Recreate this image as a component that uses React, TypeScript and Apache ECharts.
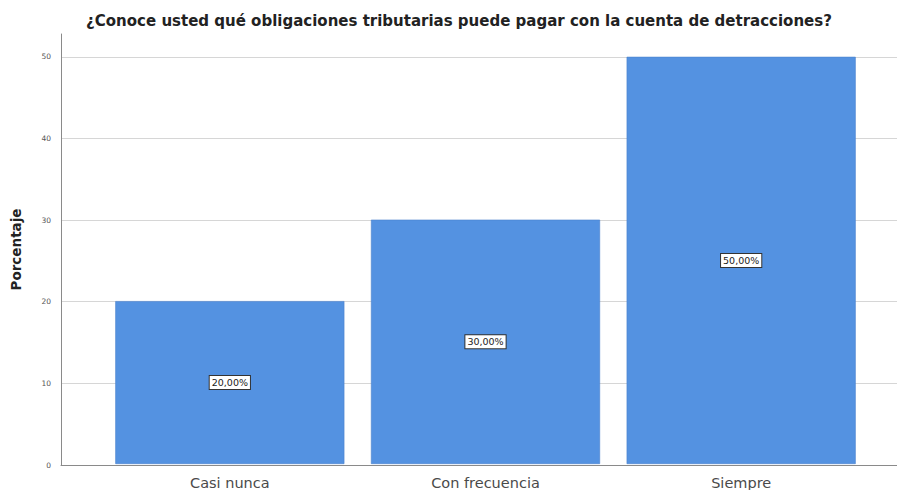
import React, { useEffect, useRef } from "react";
import * as echarts from "echarts";

const categories = ["Casi nunca", "Con frecuencia", "Siempre"];
const values = [20, 30, 50];
const valueLabels = ["20,00%", "30,00%", "50,00%"];
const yTicks = [0, 10, 20, 30, 40, 50];

const TITLE = "¿Conoce usted qué obligaciones tributarias puede pagar con la cuenta de detracciones?";
const Y_NAME = "Porcentaje";
const FONT = "DejaVu Sans, Liberation Sans, Arial, sans-serif";

export default function App() {
  const ref = useRef<HTMLDivElement>(null);
  useEffect(() => {
    if (!ref.current) return;
    const chart = echarts.init(ref.current, null, { renderer: "svg" });
    const yMax = 52.8;
    chart.setOption({
      animation: false,
      backgroundColor: "#ffffff",
      title: {
        text: TITLE,
        left: 454,
        top: 8,
        textAlign: "center",
        textStyle: { fontFamily: FONT, fontSize: 15, fontWeight: "bold", color: "#222" },
      },
      grid: [
        { left: 61, right: 0, top: 34, bottom: 25, containLabel: false },
        { left: 102, right: 28, top: 34, bottom: 25, containLabel: false },
      ],
      xAxis: [
        {
          gridIndex: 0,
          type: "value",
          min: 0,
          max: 1,
          axisLine: { show: true, lineStyle: { color: "#8a8a8a", width: 1 } },
          axisTick: { show: false },
          axisLabel: { show: false },
          splitLine: { show: false },
        },
        {
          gridIndex: 1,
          type: "category",
          data: categories,
          axisLine: { show: false },
          axisTick: { show: false },
          axisLabel: {
            margin: 11,
            fontFamily: FONT,
            fontSize: 14.5,
            color: "#4a4a4a",
          },
        },
      ],
      yAxis: [
        {
          gridIndex: 0,
          type: "value",
          min: yTicks[0],
          max: yMax,
          interval: 10,
          name: Y_NAME,
          nameLocation: "middle",
          nameGap: 38,
          nameTextStyle: { fontFamily: FONT, fontSize: 13.5, fontWeight: "bold", color: "#222" },
          axisLine: { show: true, lineStyle: { color: "#8a8a8a", width: 1 } },
          axisTick: { show: false },
          axisLabel: {
            showMaxLabel: false,
            margin: 10,
            fontFamily: FONT,
            fontSize: 7.5,
            color: "#555",
          },
          splitLine: { show: true, showMaxLine: false, showMinLine: false, lineStyle: { color: "#d6d6d6", width: 1 } },
        },
        {
          gridIndex: 1,
          type: "value",
          min: 0,
          max: yMax,
          show: false,
          splitLine: { show: false },
        },
      ],
      series: [
        {
          type: "bar",
          xAxisIndex: 1,
          yAxisIndex: 1,
          data: values,
          barCategoryGap: "10.4%",
          itemStyle: { color: "#5492e1", borderColor: "#4a82cc", borderWidth: 0.6 },
          label: {
            show: true,
            position: "inside",
            formatter: (p: any) => valueLabels[p.dataIndex],
            fontFamily: FONT,
            fontSize: 9.5,
            color: "#222",
            backgroundColor: "#ffffff",
            borderColor: "#333",
            borderWidth: 1,
            padding: [2, 2, 1, 2],
          },
        },
      ],
    });
    return () => chart.dispose();
  }, []);
  return <div ref={ref} style={{ position: "fixed", left: 0, top: 0, width: 897, height: 490 }} />;
}
